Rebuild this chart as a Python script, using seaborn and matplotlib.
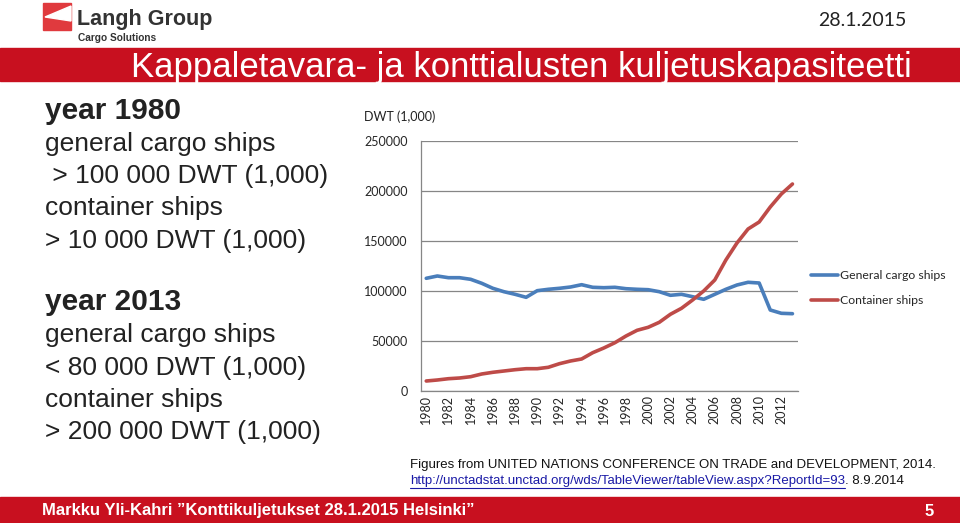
import numpy as np
import pandas as pd
import seaborn as sns
import matplotlib.pyplot as plt
from matplotlib.patches import Rectangle, Polygon

# data (DWT, 1,000)
years = list(range(1980, 2014))
general_cargo = [112700, 115000, 113300, 113300, 111700, 107700, 102700, 99300, 96700, 93700,
                 100300, 101700, 102700, 104000, 106300, 103700, 103300, 103700, 102300, 101700,
                 101300, 99300, 95700, 96700, 94300, 91700, 96700, 101700, 106000, 108700,
                 108000, 81000, 77700, 77300]
container = [10000, 11000, 12300, 13000, 14300, 17000, 18700, 20000, 21300, 22300,
             22300, 23700, 27300, 30000, 32000, 38300, 43000, 48300, 55000, 60700,
             63700, 68700, 76700, 82700, 91000, 100000, 111000, 131000, 148000, 162000,
             169000, 184000, 197000, 207000]
series_names = ["General cargo ships", "Container ships"]
y_ticks = [0, 50000, 100000, 150000, 200000, 250000]

df = pd.DataFrame({
    "year": years * 2,
    "dwt": general_cargo + container,
    "series": [series_names[0]] * len(years) + [series_names[1]] * len(years),
})

sns.set_style("white")
plt.rcParams["font.family"] = ["Liberation Sans", "DejaVu Sans"]

W, H = 960, 523
fig = plt.figure(figsize=(9.6, 5.23), dpi=100)

# background layer in pixel coords
bg = fig.add_axes([0, 0, 1, 1])
bg.set_xlim(0, W)
bg.set_ylim(H, 0)
bg.axis("off")

red = "#c8101f"
# logo
bg.add_patch(Rectangle((43, 3), 28, 27, color="#e03a3e"))
bg.add_patch(Polygon([(45, 17), (71, 6), (71, 21)], closed=True, color="white"))
bg.text(77, 19, "Langh Group", fontsize=15.5, fontweight="bold", color="#333333", va="center")
bg.text(78, 38, "Cargo Solutions", fontsize=7.3, fontweight="bold", color="#333333", va="center")

# banners
bg.add_patch(Rectangle((0, 48), W, 33, color=red))
bg.text(521, 67, "Kappaletavara- ja konttialusten kuljetuskapasiteetti", fontsize=25,
        color="white", ha="center", va="center")
bg.add_patch(Rectangle((0, 497), W, 26, color=red))
bg.text(42, 511, "Markku Yli-Kahri \u201dKonttikuljetukset 28.1.2015 Helsinki\u201d", fontsize=12,
        fontweight="bold", color="white", va="center")
bg.text(925, 511, "5", fontsize=12, fontweight="bold", color="white", va="center")

bg.text(862, 20, "28.1.2015", fontsize=14, color="#222222", ha="center", va="center",
        family=["Lato", "DejaVu Sans"])

# left text block
left_lines = [
    ("year 1980", True), ("general cargo ships", False), (" > 100 000 DWT (1,000)", False),
    ("container ships", False), ("> 10 000 DWT (1,000)", False),
    (None, False),
    ("year 2013", True), ("general cargo ships", False), ("< 80 000 DWT (1,000)", False),
    ("container ships", False), ("> 200 000 DWT (1,000)", False),
]
yy = 111
for txt, bold in left_lines:
    if txt is None:
        yy += 29
        continue
    bg.text(45, yy, txt, fontsize=21.5 if bold else 19, fontweight="bold" if bold else "normal",
            color="#222222", va="center")
    yy += 32.5

# source note
bg.text(410, 465, "Figures from UNITED NATIONS CONFERENCE ON TRADE and DEVELOPMENT, 2014.",
        fontsize=9.5, color="#111111", va="center")
url = bg.text(410, 481, "http://unctadstat.unctad.org/wds/TableViewer/tableView.aspx?ReportId=93",
              fontsize=9.5, color="#1a1aa6", va="center")
fig.canvas.draw()
bb = url.get_window_extent(renderer=fig.canvas.get_renderer())
url_end = bb.x1
bg.plot([410, url_end], [487.5, 487.5], color="#1a1aa6", lw=0.8)
bg.text(url_end, 481, ". 8.9.2014", fontsize=9.5, color="#111111", va="center")

# chart
ax = fig.add_axes([420.7 / W, 1 - 391 / H, (798 - 420.7) / W, 250 / H])
sns.lineplot(data=df, x="year", y="dwt", hue="series", hue_order=series_names,
             palette={series_names[0]: "#4a7ebb", series_names[1]: "#be4b48"},
             linewidth=2.6, ax=ax)
ax.set_xlim(1979.5, 2013.5)
ax.set_ylim(0, 250000)
ax.set_yticks(y_ticks)
ax.set_yticklabels([str(v) for v in y_ticks], family=["Lato", "DejaVu Sans"], fontsize=9)
ax.set_xticks(years[::2])
ax.set_xticklabels([str(y) for y in years[::2]], rotation=90, family=["Lato", "DejaVu Sans"],
                   fontsize=9)
ax.set_xticks(np.arange(1979.5, 2014, 1), minor=True)
ax.tick_params(axis="x", which="major", length=0, pad=3)
ax.tick_params(axis="x", which="minor", length=4, color="#868686", width=0.8)
ax.tick_params(axis="y", length=0, pad=9.5)
ax.set_xlabel("")
ax.set_ylabel("")
ax.grid(axis="y", color="#868686", linewidth=0.9)
ax.set_axisbelow(True)
for s in ["top", "right"]:
    ax.spines[s].set_visible(False)
for s in ["left", "bottom"]:
    ax.spines[s].set_color("#868686")
    ax.spines[s].set_linewidth(0.9)

bg.text(364, 117, "DWT (1,000)", fontsize=9, color="#222222", va="center",
        family=["Lato", "DejaVu Sans"])

leg = ax.legend(loc="center left", bbox_to_anchor=(800 / W, 1 - 288 / H),
                bbox_transform=fig.transFigure, frameon=False, handlelength=2.2,
                handletextpad=0.2, labelspacing=1.15, prop={"family": "Lato", "size": 8.8})

fig.savefig("out.png", dpi=100)
